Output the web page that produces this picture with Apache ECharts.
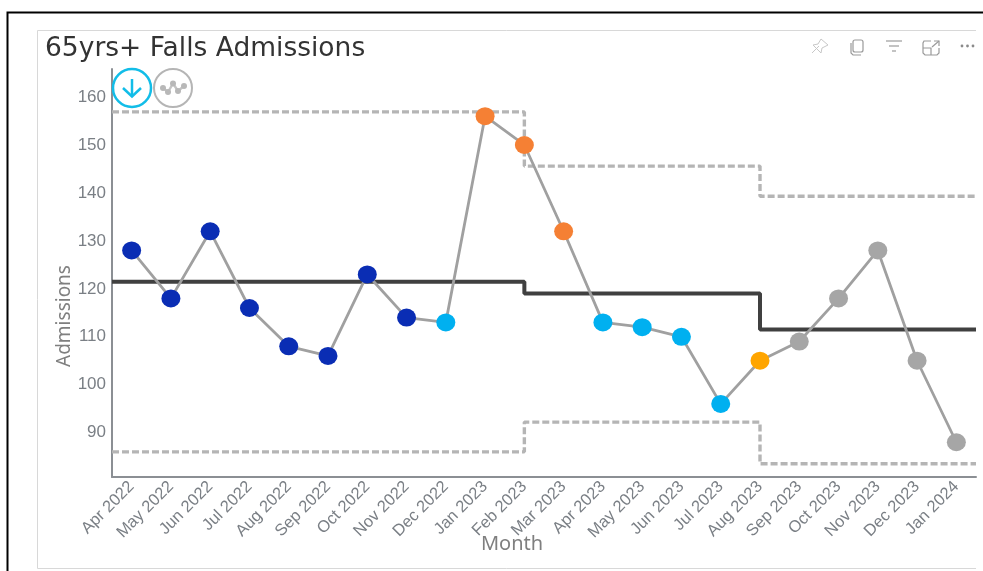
<!DOCTYPE html>
<html>
<head>
<meta charset="utf-8">
<style>
html,body{margin:0;padding:0;background:#fff;}
#chart{width:983px;height:571px;}
</style>
<script src="https://cdn.jsdelivr.net/npm/echarts@6/dist/echarts.min.js"></script>
</head>
<body>
<div id="chart"></div>
<script>
// Monthly admissions on an SPC chart, with process limits re-based at two months.
const months = ['Apr 2022','May 2022','Jun 2022','Jul 2022','Aug 2022','Sep 2022','Oct 2022','Nov 2022','Dec 2022','Jan 2023','Feb 2023','Mar 2023','Apr 2023','May 2023','Jun 2023','Jul 2023','Aug 2023','Sep 2023','Oct 2023','Nov 2023','Dec 2023','Jan 2024'];
const admissions = [128,118,132,116,108,106,123,114,113,156,150,132,113,112,110,96,105,109,118,128,105,88];
const pointClass = ['low','low','low','low','low','low','low','low','run','high','high','high','run','run','run','run','amber','none','none','none','none','none'];
const classColours = {low:'#0A2DB4', run:'#00B0F0', high:'#F58034', amber:'#FFA500', none:'#A6A6A6'};

// Each period spans [start, end] in month-band units along the axis.
const periodEdges = [0, 10.5, 16.5, 22];
const centreLine = [121.5, 119, 111.5];
const upperLimit = [156.9, 145.6, 139.3];
const lowerLimit = [86, 92.2, 83.5];
const yTicks = [90,100,110,120,130,140,150,160];

const stepped = vals => vals.flatMap((v, i) => [[periodEdges[i], v], [periodEdges[i + 1], v]]);

const limitSeries = (name, vals, style) => ({
  name, type: 'line', xAxisIndex: 1, data: stepped(vals),
  symbol: 'none', silent: true, z: 2, lineStyle: style
});

const chart = echarts.init(document.getElementById('chart'), null, {renderer: 'canvas'});
const titleFont = '"DejaVu Sans", sans-serif';
const nameFont = '"Noto Sans", Roboto, sans-serif';
const bodyFont = '"Liberation Sans", Arial, sans-serif';
const iconGrey = '#9a9a9a';
const wavePoints = [[163, 88], [168, 92], [173, 83.5], [178, 91], [184, 86]];

chart.setOption({
  animation: false,
  backgroundColor: '#fff',
  grid: {left: 112, right: 7, top: 69, bottom: 94, containLabel: false},
  xAxis: [{
    type: 'category', data: months, boundaryGap: true,
    axisLine: {show: true, lineStyle: {color: '#8b8f94', width: 2}},
    axisTick: {show: false},
    axisLabel: {interval: 0, rotate: 45, color: '#7a7f85', fontFamily: bodyFont, fontSize: 16.5, margin: 7}
  }, {
    type: 'value', min: 0, max: 22, show: false
  }],
  yAxis: {
    type: 'value', min: 80.75, max: 165.85,
    axisLine: {show: true, lineStyle: {color: '#8b8f94', width: 2}},
    axisTick: {show: false},
    splitLine: {show: false},
    axisLabel: {customValues: yTicks, color: '#7a7f85', fontFamily: bodyFont, fontSize: 17, margin: 6}
  },
  series: [
    limitSeries('Upper limit', upperLimit, {color: '#b5b5b5', width: 3.4, type: [7, 3]}),
    limitSeries('Lower limit', lowerLimit, {color: '#b5b5b5', width: 3.4, type: [7, 3]}),
    limitSeries('Mean', centreLine, {color: '#404040', width: 4}),
    {
      name: 'Admissions', type: 'line', xAxisIndex: 0, z: 3,
      data: admissions.map((v, i) => ({value: v, itemStyle: {color: classColours[pointClass[i]]}})),
      symbol: 'circle', symbolSize: [19, 18],
      lineStyle: {color: '#a0a0a0', width: 2.8},
      itemStyle: {borderWidth: 0}
    }
  ],
  graphic: [
    // Outer frame and card
    {type: 'polyline', silent: true, z: 0, shape: {points: [[7.5, 571], [7.5, 12.5], [983, 12.5]]}, style: {stroke: '#000', lineWidth: 2, fill: null}},
    {type: 'polyline', silent: true, z: 0, shape: {points: [[976, 30.5], [37.5, 30.5], [37.5, 568.5], [976, 568.5]]}, style: {stroke: '#d8d8d8', lineWidth: 1, fill: null}},
    {type: 'text', silent: true, x: 45, y: 49, style: {text: '65yrs+ Falls Admissions', fill: '#333', font: '26.5px ' + titleFont, verticalAlign: 'middle'}},
    // Axis titles
    {type: 'text', silent: true, x: 512, y: 544, style: {text: 'Month', fill: '#7f7f7f', font: '20px ' + nameFont, align: 'center', verticalAlign: 'middle'}},
    {type: 'text', silent: true, x: 65, y: 316, rotation: Math.PI / 2, style: {text: 'Admissions', fill: '#7f7f7f', font: '19px ' + nameFont, align: 'center', verticalAlign: 'middle'}},
    // Trend and variation badges
    {type: 'circle', silent: true, z: 10, shape: {cx: 132, cy: 88, r: 19}, style: {fill: '#fff', stroke: '#12BDE8', lineWidth: 2.5}},
    {type: 'polyline', silent: true, z: 11, shape: {points: [[132, 79], [132, 96]]}, style: {stroke: '#12BDE8', lineWidth: 2.5, fill: null}},
    {type: 'polyline', silent: true, z: 11, shape: {points: [[123, 88], [132, 96.5], [141, 88]]}, style: {stroke: '#12BDE8', lineWidth: 2.5, fill: null}},
    {type: 'circle', silent: true, z: 10, shape: {cx: 173, cy: 88, r: 19}, style: {fill: '#fff', stroke: '#b5b5b5', lineWidth: 2}},
    {type: 'polyline', silent: true, z: 11, shape: {points: wavePoints}, style: {stroke: '#c4c4c4', lineWidth: 2.4, fill: null}},
    ...wavePoints.map(p => ({type: 'circle', silent: true, z: 11, shape: {cx: p[0], cy: p[1], r: 3}, style: {fill: '#b8b8b8'}})),
    // Visual header icons
    {type: 'polyline', silent: true, shape: {points: [[812, 53], [819, 46]]}, style: {stroke: '#c8c8c8', lineWidth: 1, fill: null}},
    {type: 'polygon', silent: true, shape: {points: [[821, 39], [828, 45], [822, 48], [821, 53], [813, 45], [818, 44]]}, style: {stroke: '#c8c8c8', lineWidth: 1, fill: null}},
    {type: 'rect', silent: true, shape: {x: 853, y: 40, width: 10, height: 12, r: 2}, style: {stroke: iconGrey, lineWidth: 1.2, fill: null}},
    {type: 'polyline', silent: true, shape: {points: [[851, 43], [851, 53], [853, 55], [861, 55]]}, style: {stroke: iconGrey, lineWidth: 1.2, fill: null}},
    {type: 'polyline', silent: true, shape: {points: [[886, 41], [902, 41]]}, style: {stroke: iconGrey, lineWidth: 1.2, fill: null}},
    {type: 'polyline', silent: true, shape: {points: [[889, 46], [899, 46]]}, style: {stroke: iconGrey, lineWidth: 1.2, fill: null}},
    {type: 'polyline', silent: true, shape: {points: [[892, 51], [896, 51]]}, style: {stroke: iconGrey, lineWidth: 1.2, fill: null}},
    {type: 'polyline', silent: true, shape: {points: [[931, 41], [924, 41], [923, 43], [923, 53], [925, 55], [937, 55], [939, 53], [939, 48]]}, style: {stroke: iconGrey, lineWidth: 1.2, fill: null}},
    {type: 'polyline', silent: true, shape: {points: [[923, 48], [931, 48], [931, 55]]}, style: {stroke: iconGrey, lineWidth: 1.2, fill: null}},
    {type: 'polyline', silent: true, shape: {points: [[932, 47], [939, 41]]}, style: {stroke: iconGrey, lineWidth: 1.2, fill: null}},
    {type: 'polyline', silent: true, shape: {points: [[934, 41], [939, 41], [939, 46]]}, style: {stroke: iconGrey, lineWidth: 1.2, fill: null}},
    ...[962, 967.5, 973].map(x => ({type: 'circle', silent: true, shape: {cx: x, cy: 46, r: 1.4}, style: {fill: '#8a8a8a'}}))
  ]
});
</script>
</body>
</html>
